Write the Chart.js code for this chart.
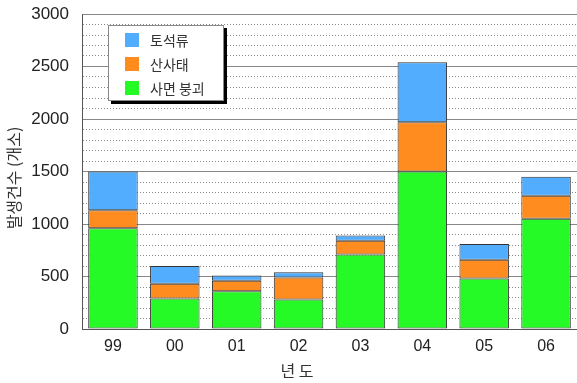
<!DOCTYPE html>
<html>
<head>
<meta charset="utf-8">
<script src="https://cdn.jsdelivr.net/npm/chart.js@4/dist/chart.umd.min.js"></script>
<style>
  html, body { margin: 0; padding: 0; background: #fff; }
  #wrap { width: 577px; height: 383px; position: relative; }
</style>
</head>
<body>
<div id="wrap"><canvas id="c"></canvas></div>
<script>
// 연도별 발생건수 (개소)
const years = ['99', '00', '01', '02', '03', '04', '05', '06'];
const slopeFailure = [960, 290, 360, 280, 710, 1500, 480, 1050];   // 사면 붕괴
const landslide    = [170, 140, 100, 210, 130, 470, 180, 220];     // 산사태
const debrisFlow   = [370, 170, 50, 50, 50, 570, 150, 180];        // 토석류
const yTicks = [0, 500, 1000, 1500, 2000, 2500, 3000];
const xTitle = '년 도';
const yTitle = '발생건수 (개소)';

const FONT = '"Liberation Sans", Arial, "Noto Sans CJK KR", sans-serif';
const KFONT = '"Noto Sans CJK KR", "Liberation Sans", sans-serif';

// Boxed legend with a drop shadow, plus the two axis titles
const boxLegend = {
  id: 'boxLegend',
  afterDraw(chart) {
    const ctx = chart.ctx;
    const x = 108, y = 25, w = 116, h = 76;
    ctx.save();
    ctx.fillStyle = '#000';
    ctx.fillRect(x + 3, y + 3, w, h);
    ctx.fillStyle = '#fff';
    ctx.fillRect(x, y, w, h);
    ctx.strokeStyle = '#888';
    ctx.lineWidth = 1;
    ctx.strokeRect(x + 0.5, y + 0.5, w - 1, h - 1);
    const items = chart.data.datasets.slice().reverse();
    items.forEach((ds, i) => {
      const cy = y + 15 + i * 24;
      ctx.fillStyle = ds.backgroundColor;
      ctx.fillRect(x + 17, cy - 7, 14, 14);
      ctx.fillStyle = '#333';
      ctx.font = '14px ' + KFONT;
      ctx.textBaseline = 'middle';
      ctx.textAlign = 'left';
      ctx.fillText(ds.label, x + 42, cy + 1);
    });

    // axis titles
    ctx.fillStyle = '#333';
    ctx.font = '16px ' + KFONT;
    ctx.textAlign = 'center';
    ctx.textBaseline = 'middle';
    ctx.fillText(xTitle, 297, 371);
    ctx.translate(14, 178);
    ctx.rotate(-Math.PI / 2);
    ctx.fillText(yTitle, 0, 0);
    ctx.restore();
  }
};

new Chart(document.getElementById('c'), {
  type: 'bar',
  data: {
    labels: years,
    datasets: [
      { label: '사면 붕괴', data: slopeFailure, backgroundColor: '#26FA26' },
      { label: '산사태', data: landslide, backgroundColor: '#FF8C1E' },
      { label: '토석류', data: debrisFlow, backgroundColor: '#52ADFF' }
    ]
  },
  options: {
    responsive: true,
    maintainAspectRatio: false,
    animation: false,
    layout: { padding: { top: 14, right: 0, left: 0, bottom: 0 } },
    datasets: {
      bar: {
        borderColor: '#333',
        borderWidth: 1,
        borderSkipped: false,
        barPercentage: 0.8,
        categoryPercentage: 1.0
      }
    },
    plugins: {
      legend: { display: false },
      tooltip: { enabled: false }
    },
    scales: {
      x: {
        stacked: true,
        grid: { display: false },
        border: { color: '#555', width: 1 },
        afterFit(scale) { scale.height = 54; },
        ticks: { color: '#222', font: { family: FONT, size: 16 }, padding: 0 },
        title: { display: false }
      },
      y: {
        stacked: true,
        min: 0,
        max: 3000,
        afterBuildTicks(scale) {
          const t = [];
          for (let v = 0; v <= 3000; v += 100) t.push({ value: v });
          scale.ticks = t;
        },
        afterFit(scale) {
          scale.width = 82;
          scale.paddingTop = 0;
          scale.paddingBottom = 0;
        },
        ticks: {
          color: '#222',
          font: { family: FONT, size: 17 },
          padding: 13,
          autoSkip: false,
          callback: (v) => (yTicks.includes(v) ? String(v) : '')
        },
        grid: {
          drawTicks: false,
          color: (c) => (c.tick && c.tick.value % 500 === 0 ? '#888' : '#8a8a8a'),
          lineWidth: 1
        },
        border: {
          color: '#555',
          width: 1,
          dash: (c) => (c.tick && c.tick.value % 500 === 0 ? [] : [1, 2])
        },
        title: { display: false }
      }
    }
  },
  plugins: [boxLegend]
});
</script>
</body>
</html>
